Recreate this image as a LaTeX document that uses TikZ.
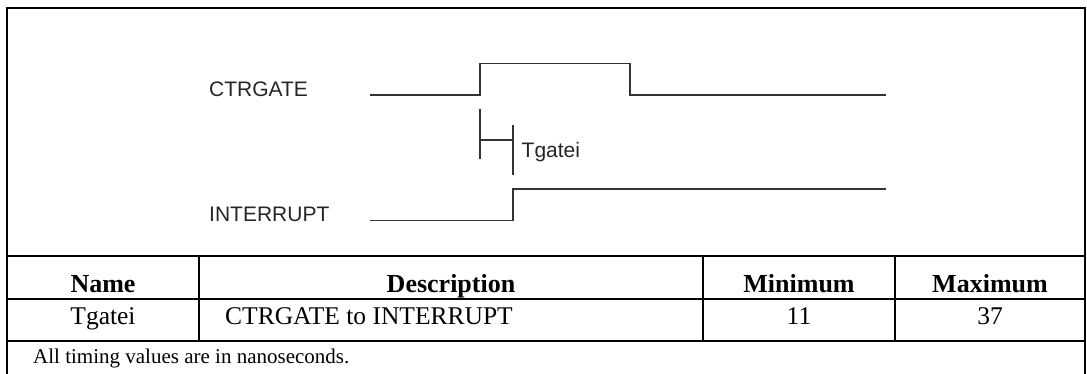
\documentclass[tikz,border=0pt]{standalone}
\usepackage{fontspec}
\setmainfont{Liberation Serif}
\newfontfamily\arialf{Liberation Sans}
\begin{document}
\begin{tikzpicture}[x=1pt,y=-1pt,
  frame/.style={line width=2pt,black},
  sig/.style={line width=1.1pt,black!80},
  siglabel/.style={anchor=base west,inner sep=0pt,font=\arialf\fontsize{21}{25}\selectfont,text=black!85},
  head/.style={anchor=base,inner sep=0pt,font=\bfseries\fontsize{26}{30}\selectfont},
  cell/.style={anchor=base,inner sep=0pt,font=\fontsize{25.5}{30}\selectfont},
  foot/.style={anchor=base west,inner sep=0pt,font=\fontsize{21}{25}\selectfont}]
\useasboundingbox (0,0) rectangle (1087,374);
% outer frame (open at the bottom)
\draw[frame] (7,374) -- (7,8) -- (1085,8) -- (1085,374);
% table rules
\draw[frame] (7,256) -- (1085,256);
\draw[frame] (7,299) -- (1085,299);
\draw[frame] (7,340.5) -- (1085,340.5);
\draw[frame] (199,256) -- (199,340.5);
\draw[frame] (703,256) -- (703,340.5);
\draw[frame] (895,256) -- (895,340.5);
% signal labels
\node[siglabel] (lctr) at (209,96.7) {CTRGATE};
\node[siglabel] (lint) at (209,221.7) {INTERRUPT};
% waveforms
\draw[sig] (370,95) -- (480,95) -- (480,63.5) -- (630,63.5) -- (630,95) -- (886,95);
\draw[sig] (370,220.7) -- (513,220.7) -- (513,189) -- (886,189);
% Tgatei marker
\draw[sig] (480,109) -- (480,159);
\draw[sig] (480,140) -- (513,140);
\draw[sig] (513,125) -- (513,175);
\node[siglabel] (ltg) at (521.5,157.3) {Tgatei};
% table texts
\node[head] (hname) at (103,292.3) {Name};
\node[head] (hdesc) at (451,292.3) {Description};
\node[head] (hmin) at (799,292.3) {Minimum};
\node[head] (hmax) at (990,292.3) {Maximum};
\node[cell] (cname) at (103,324) {Tgatei};
\node[cell,anchor=base west] (cdesc) at (225,324) {CTRGATE to INTERRUPT};
\node[cell] (cmin) at (799,324) {11};
\node[cell] (cmax) at (990,324) {37};
\node[foot] (note) at (33,363) {All timing values are in nanoseconds.};
\end{tikzpicture}
\end{document}
